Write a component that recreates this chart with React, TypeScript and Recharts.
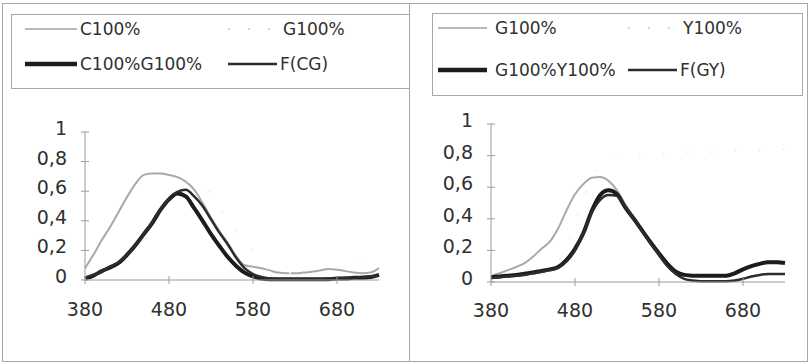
import React from 'react';
import { LineChart, Line, XAxis, YAxis, Legend } from 'recharts';

// ---------- data ----------
const wavelengths = [
  380, 390, 400, 410, 420, 430, 440, 450, 460, 470,
  480, 490, 500, 510, 520, 530, 540, 550, 560, 570,
  580, 590, 600, 610, 620, 630, 640, 650, 660, 670,
  680, 690, 700, 710, 720, 730,
];

const c100 = [
  0.08, 0.17, 0.27, 0.36, 0.46, 0.56, 0.65, 0.71, 0.72, 0.72,
  0.71, 0.695, 0.665, 0.61, 0.52, 0.42, 0.33, 0.25, 0.16, 0.1,
  0.09, 0.08, 0.065, 0.05, 0.045, 0.045, 0.05, 0.055, 0.065, 0.075,
  0.07, 0.06, 0.05, 0.045, 0.05, 0.08,
];

const g100 = [
  0.04, 0.055, 0.075, 0.095, 0.12, 0.16, 0.21, 0.255, 0.34, 0.455,
  0.555, 0.62, 0.66, 0.665, 0.64, 0.58, 0.49, 0.41, 0.33, 0.26,
  0.19, 0.12, 0.07, 0.05, 0.045, 0.045, 0.045, 0.045, 0.045, 0.06,
  0.085, 0.105, 0.12, 0.13, 0.13, 0.125,
];

const c100g100 = [
  0.01, 0.03, 0.06, 0.085, 0.115, 0.17, 0.235, 0.31, 0.385, 0.475,
  0.545, 0.585, 0.565, 0.485, 0.4, 0.31, 0.23, 0.155, 0.095, 0.05,
  0.025, 0.01, 0.005, 0.005, 0.005, 0.005, 0.005, 0.005, 0.005, 0.005,
  0.01, 0.01, 0.015, 0.015, 0.02, 0.035,
];

const fCG = [
  0.015, 0.035, 0.06, 0.09, 0.12, 0.17, 0.23, 0.31, 0.39, 0.48,
  0.55, 0.595, 0.61, 0.565, 0.5, 0.41, 0.32, 0.24, 0.15, 0.08,
  0.04, 0.02, 0.01, 0.005, 0.005, 0.005, 0.005, 0.005, 0.005, 0.01,
  0.01, 0.015, 0.015, 0.02, 0.025, 0.03,
];

const y100 = [
  0.05, 0.05, 0.05, 0.05, 0.05, 0.06, 0.07, 0.09, 0.13, 0.22,
  0.36, 0.52, 0.65, 0.73, 0.77, 0.79, 0.8, 0.8, 0.81, 0.81,
  0.81, 0.81, 0.81, 0.82, 0.82, 0.82, 0.82, 0.82, 0.83, 0.83,
  0.83, 0.83, 0.83, 0.84, 0.84, 0.84,
];

const g100y100 = [
  0.03, 0.035, 0.04, 0.045, 0.053, 0.06, 0.07, 0.08, 0.095, 0.14,
  0.21, 0.31, 0.45, 0.55, 0.58, 0.555, 0.47, 0.4, 0.325, 0.25,
  0.18, 0.115, 0.065, 0.045, 0.04, 0.04, 0.04, 0.04, 0.04, 0.055,
  0.08, 0.1, 0.115, 0.125, 0.125, 0.12,
];

const fGY = [
  0.025, 0.03, 0.035, 0.04, 0.045, 0.055, 0.065, 0.075, 0.09, 0.13,
  0.2, 0.31, 0.44, 0.52, 0.55, 0.545, 0.475, 0.4, 0.32, 0.245,
  0.17, 0.1, 0.05, 0.02, 0.01, 0.005, 0.005, 0.005, 0.005, 0.01,
  0.02, 0.035, 0.045, 0.05, 0.05, 0.05,
];

const xTicks = [380, 480, 580, 680];
const yTicks = [0, 0.2, 0.4, 0.6, 0.8, 1];
const leftNames = ['C100%', 'G100%', 'C100%G100%', 'F(CG)'];
const rightNames = ['G100%', 'Y100%', 'G100%Y100%', 'F(GY)'];

const leftData = wavelengths.map((wl, i) => ({ wl, s0: c100[i], s1: g100[i], s2: c100g100[i], s3: fCG[i] }));
const rightData = wavelengths.map((wl, i) => ({ wl, s0: g100[i], s1: y100[i], s2: g100y100[i], s3: fGY[i] }));

// ---------- styles ----------
const FONT = '"DejaVu Sans", sans-serif';
const AXIS_COLOR = '#9c9c9c';
const TEXT_COLOR = '#303030';

const seriesStyles = [
  { color: '#a9a9a9', width: 2, dash: undefined as string | undefined },
  { color: '#f1f1f1', width: 2, dash: '2 22' },
  { color: '#1c1c1c', width: 4, dash: undefined },
  { color: '#2c2c2c', width: 2.5, dash: undefined },
];

const legendSampleStyles = [
  { color: '#a0a0a0', width: 1.5, dash: undefined as string | undefined },
  { color: '#cacaca', width: 1.5, dash: '2 18' },
  { color: '#1c1c1c', width: 4.5, dash: undefined },
  { color: '#2c2c2c', width: 2.5, dash: undefined },
];

const fmtY = (v: number) => (v === 0 ? '0' : v === 1 ? '1' : v.toFixed(1).replace('.', ','));

const makeYTick = (baseOff: number) => (props: any) => {
  const { x, y, payload } = props;
  const ax = x + 18;
  return (
    <g>
      <line x1={ax - 4} x2={ax + 4} y1={y} y2={y} stroke={AXIS_COLOR} strokeWidth={1} />
      <text x={x} y={y + baseOff} textAnchor="end" fontFamily={FONT} fontSize={19} fill={TEXT_COLOR}>
        {fmtY(payload.value)}
      </text>
    </g>
  );
};

const makeXTick = (baseOff: number) => (props: any) => {
  const { x, y, payload } = props;
  const ay = y - 6;
  return (
    <g>
      <line x1={x} x2={x} y1={ay - 4} y2={ay + 4} stroke={AXIS_COLOR} strokeWidth={1} />
      <text x={x} y={ay + baseOff} textAnchor="middle" fontFamily={FONT} fontSize={19} fill={TEXT_COLOR}>
        {payload.value}
      </text>
    </g>
  );
};

type LegendPos = { sx: number; sw: number; tx: number; y: number };

const LegendBox = ({ names, pos, width, height }: { names: string[]; pos: LegendPos[]; width: number; height: number }) => (
  <div
    style={{
      position: 'relative',
      width,
      height,
      border: '1px solid #a8a8a8',
      boxSizing: 'border-box',
      fontFamily: FONT,
      fontSize: 17,
      color: TEXT_COLOR,
      background: '#fff',
    }}
  >
    {names.map((name, i) => {
      const p = pos[i];
      const st = legendSampleStyles[i];
      return (
        <React.Fragment key={name}>
          <svg style={{ position: 'absolute', left: p.sx, top: p.y - 5, overflow: 'visible' }} width={p.sw} height={10}>
            <line x1={0} x2={p.sw} y1={5} y2={5} stroke={st.color} strokeWidth={st.width} strokeDasharray={st.dash} />
          </svg>
          <span style={{ position: 'absolute', left: p.tx, top: p.y - 11, lineHeight: '22px', whiteSpace: 'nowrap' }}>
            {name}
          </span>
        </React.Fragment>
      );
    })}
  </div>
);

const leftLegendPos: LegendPos[] = [
  { sx: 13, sw: 52, tx: 68, y: 14 },
  { sx: 216, sw: 49, tx: 271, y: 14 },
  { sx: 13, sw: 52, tx: 68, y: 49 },
  { sx: 216, sw: 49, tx: 268, y: 49 },
];

const rightLegendPos: LegendPos[] = [
  { sx: 5, sw: 49, tx: 62, y: 14 },
  { sx: 195, sw: 49, tx: 250, y: 14 },
  { sx: 5, sw: 49, tx: 62, y: 56 },
  { sx: 195, sw: 49, tx: 247, y: 56 },
];

type PanelProps = {
  data: any[];
  names: string[];
  left: number;
  width: number;
  margin: { top: number; right: number; left: number; bottom: number };
  yAxisWidth: number;
  xAxisHeight: number;
  legendPos: LegendPos[];
  legendBox: { left: number; top: number; width: number; height: number };
  xBase: number;
};

const Panel = (p: PanelProps) => (
  <div style={{ position: 'absolute', left: p.left, top: 3, width: p.width, height: 359 }}>
    <LineChart width={p.width} height={359} data={p.data} margin={p.margin}>
      <XAxis
        type="number"
        dataKey="wl"
        domain={[380, 730]}
        ticks={xTicks}
        height={p.xAxisHeight}
        axisLine={{ stroke: AXIS_COLOR, strokeWidth: 1 }}
        tickLine={false}
        tickSize={4}
        tickMargin={2}
        tick={makeXTick(p.xBase)}
        interval={0}
      />
      <YAxis
        type="number"
        domain={[0, 1]}
        ticks={yTicks}
        width={p.yAxisWidth}
        axisLine={{ stroke: AXIS_COLOR, strokeWidth: 1 }}
        tickLine={false}
        tickSize={4}
        tickMargin={14}
        tick={makeYTick(3)}
        interval={0}
      />
      <Legend
        layout="horizontal"
        verticalAlign="middle"
        align="center"
        wrapperStyle={{
          position: 'absolute',
          left: p.legendBox.left,
          top: p.legendBox.top,
          width: p.legendBox.width,
          height: p.legendBox.height,
        }}
        content={() => (
          <LegendBox names={p.names} pos={p.legendPos} width={p.legendBox.width} height={p.legendBox.height} />
        )}
      />
      {p.names.map((name, i) => (
        <Line
          key={name}
          type="monotone"
          dataKey={`s${i}`}
          name={name}
          stroke={seriesStyles[i].color}
          strokeWidth={seriesStyles[i].width}
          strokeDasharray={seriesStyles[i].dash}
          dot={false}
          activeDot={false}
          isAnimationActive={false}
        />
      ))}
    </LineChart>
  </div>
);

export default function App() {
  return (
    <div style={{ position: 'absolute', left: 0, top: 0, width: 809, height: 364, background: '#fff', overflow: 'hidden' }}>
      <Panel
        data={leftData}
        names={leftNames}
        left={2}
        width={408}
        margin={{ top: 129, right: 31, left: 0, bottom: 0 }}
        yAxisWidth={83}
        xAxisHeight={82}
        legendPos={leftLegendPos}
        legendBox={{ left: 9, top: 11, width: 399, height: 75 }}
        xBase={36}
      />
      <Panel
        data={rightData}
        names={rightNames}
        left={410}
        width={397}
        margin={{ top: 121, right: 22, left: 0, bottom: 0 }}
        yAxisWidth={81}
        xAxisHeight={80}
        legendPos={rightLegendPos}
        legendBox={{ left: 22, top: 10, width: 371, height: 83 }}
        xBase={35}
      />
      <div style={{ position: 'absolute', left: 2, top: 3, width: 408, height: 359, border: '1px solid #a8a8a8', boxSizing: 'border-box', pointerEvents: 'none' }} />
      <div style={{ position: 'absolute', left: 409, top: 3, width: 399, height: 359, border: '1px solid #a8a8a8', boxSizing: 'border-box', pointerEvents: 'none' }} />
    </div>
  );
}
